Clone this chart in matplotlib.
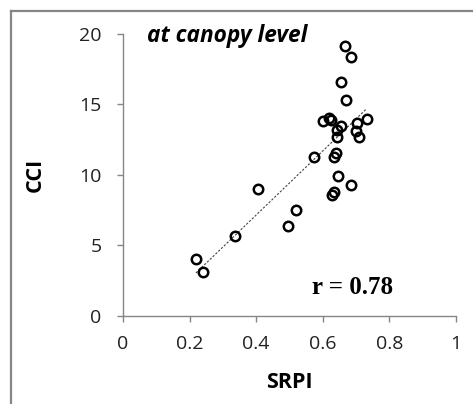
import numpy as np
import matplotlib
matplotlib.use("Agg")
import matplotlib.pyplot as plt
from matplotlib.lines import Line2D

# values
srpi = [0.667, 0.684, 0.654, 0.670, 0.600, 0.620, 0.624, 0.654, 0.644, 0.643,
        0.702, 0.699, 0.710, 0.732, 0.575, 0.640, 0.634, 0.647, 0.684, 0.634,
        0.629, 0.405, 0.519, 0.497, 0.335, 0.219, 0.240]
cci = [19.15, 18.35, 16.6, 15.3, 13.8, 14.06, 13.9, 13.5, 13.2, 12.7,
       13.67, 13.12, 12.72, 13.97, 11.3, 11.54, 11.3, 9.95, 9.27, 8.82,
       8.58, 9.0, 7.52, 6.4, 5.65, 4.02, 3.14]
x_ticks = [0, 0.2, 0.4, 0.6, 0.8, 1]
x_labels = ["0", "0.2", "0.4", "0.6", "0.8", "1"]
y_ticks = [0, 5, 10, 15, 20]

font = "Open Sans"
grey = "#868686"

fig = plt.figure(figsize=(4.73, 4.04), dpi=100)
ax = fig.add_axes([0.260, 0.218, 0.704, 0.698])

ax.plot(srpi, cci, "o", mfc="none", mec="black", ms=6.8, mew=1.8, zorder=3)

# linear trend line over the data range
slope, icpt = np.polyfit(srpi, cci, 1)
xs = np.array([min(srpi), max(srpi)])
ax.plot(xs, slope * xs + icpt, ls=(0, (2, 1.5)), color="#444444", lw=0.8, zorder=2)

ax.set_xlim(0, 1)
ax.set_ylim(0, 20)
ax.set_xticks(x_ticks)
ax.set_xticklabels(x_labels)
ax.set_yticks(y_ticks)

for s in ["top", "right"]:
    ax.spines[s].set_visible(False)
for s in ["left", "bottom"]:
    ax.spines[s].set_color(grey)
    ax.spines[s].set_linewidth(1.0)
ax.tick_params(direction="out", length=4.5, width=1.0, color=grey, labelsize=14)
ax.tick_params(axis="x", pad=9)
ax.tick_params(axis="y", pad=11)
for lab in ax.get_xticklabels() + ax.get_yticklabels():
    lab.set_family(font)
    lab.set_color("#222222")

fig.text(289 / 473, 1 - 383 / 404, "SRPI", family=font, fontweight="bold",
         fontsize=15.5, ha="center", va="center")
fig.text(35 / 473, 1 - 175 / 404, "CCI", family=font, fontweight="bold",
         fontsize=15.5, ha="center", va="center", rotation=90)

ax.text(0.072, 19.4, "at canopy level", family=font, fontweight="bold",
        fontstyle="italic", fontsize=16.3, va="baseline", ha="left")
ax.text(0.567, 2.05, "r = 0.78", family="Liberation Serif", fontweight="bold",
        fontsize=18, va="center", ha="left")

# grey outer frame (right and bottom edges fall outside the image)
top_y = 1 - 11 / 404
left_x = 10.5 / 473
fig.add_artist(Line2D([left_x, 1.0], [top_y, top_y], transform=fig.transFigure,
                      color=grey, lw=1.6))
fig.add_artist(Line2D([left_x, left_x], [0.0, top_y], transform=fig.transFigure,
                      color=grey, lw=1.6))

fig.savefig("out.png", dpi=100)
